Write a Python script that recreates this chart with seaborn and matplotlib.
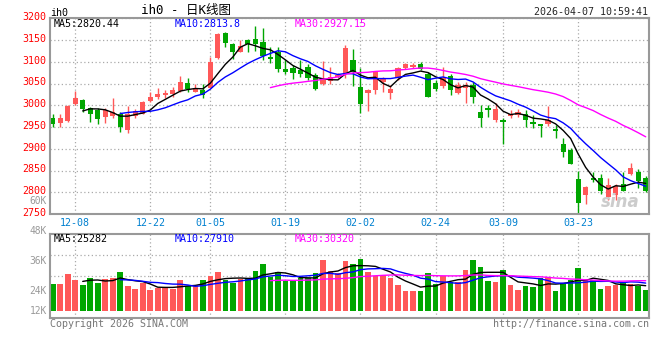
import matplotlib
matplotlib.use("Agg")
import matplotlib.pyplot as plt
import matplotlib.transforms as mtransforms
import numpy as np
import pandas as pd
import seaborn as sns

# daily OHLC for ih0 (oldest first)
opens = [2970, 2960, 2964, 3003, 3012, 2993, 2989, 2974, 2975, 2981,
         2943, 2976, 2981, 3010, 3019, 3024, 3025, 3033, 3051, 3031,
         3034, 3040, 3108, 3166, 3140, 3123, 3150, 3152, 3145, 3112,
         3122, 3084, 3086, 3080, 3087, 3070, 3049, 3056, 3064, 3075,
         3104, 3042, 3029, 3034, 3053, 3029, 3062, 3086, 3089, 3096,
         3071, 3051, 3045, 3068, 3029, 3039, 3047, 2985, 2994, 2965,
         2966, 2975, 2978, 2980, 2962, 2956, 2958, 2945, 2912, 2897,
         2830, 2793, 2833, 2832, 2790, 2793, 2819, 2843, 2847, 2833]
highs = [2980, 2979, 3000, 3033, 3014, 2995, 2993, 2993, 3016, 2985,
         2999, 2991, 3010, 3031, 3040, 3036, 3043, 3067, 3063, 3048,
         3049, 3112, 3166, 3169, 3143, 3149, 3152, 3182, 3178, 3134,
         3133, 3104, 3093, 3104, 3094, 3074, 3102, 3089, 3075, 3139,
         3129, 3085, 3037, 3077, 3066, 3047, 3089, 3098, 3097, 3100,
         3076, 3059, 3089, 3071, 3054, 3054, 3054, 3001, 3001, 3005,
         2971, 2990, 2991, 2990, 2977, 2958, 2998, 2954, 2924, 2901,
         2849, 2814, 2847, 2843, 2832, 2819, 2847, 2868, 2853, 2837]
lows = [2951, 2951, 2961, 3000, 2984, 2962, 2957, 2960, 2970, 2938,
        2936, 2970, 2980, 3008, 3014, 3016, 3018, 3031, 3031, 3030,
        3016, 3039, 3106, 3133, 3106, 3122, 3123, 3125, 3104, 3098,
        3076, 3072, 3061, 3066, 3058, 3034, 3046, 3049, 3062, 3062,
        3045, 2983, 2987, 3026, 3031, 3014, 3059, 3083, 3085, 3081,
        3019, 3033, 3040, 3024, 3027, 3006, 3006, 2951, 2974, 2962,
        2912, 2970, 2974, 2951, 2948, 2927, 2953, 2924, 2882, 2864,
        2751, 2774, 2824, 2797, 2782, 2782, 2803, 2840, 2809, 2800]
closes = [2957, 2970, 2999, 3017, 2992, 2981, 2969, 2989, 2985, 2951,
          2981, 2987, 3007, 3019, 3027, 3028, 3035, 3054, 3037, 3039,
          3024, 3100, 3164, 3144, 3123, 3137, 3140, 3140, 3114, 3107,
          3084, 3077, 3075, 3072, 3062, 3037, 3058, 3065, 3070, 3132,
          3076, 3004, 3034, 3076, 3062, 3037, 3086, 3094, 3093, 3083,
          3020, 3038, 3062, 3034, 3046, 3047, 3020, 2971, 2988, 2991,
          2962, 2981, 2984, 2967, 2958, 2953, 2967, 2941, 2892, 2865,
          2776, 2812, 2829, 2804, 2816, 2814, 2804, 2855, 2827, 2802]
volumes = [27000, 27000, 37000, 31000, 26000, 33000, 28000, 32000, 33000, 39000,
           25000, 22000, 28000, 21000, 23000, 24000, 22000, 31000, 25000, 26000,
           31000, 35000, 39000, 31000, 28000, 32000, 33000, 40000, 47000, 34000,
           39000, 30000, 31000, 33000, 33000, 38000, 51000, 40000, 38000, 50000,
           47000, 52000, 39000, 35000, 36000, 33000, 26000, 20000, 20000, 20500,
           37700, 26700, 34700, 28700, 28700, 40700, 50700, 43700, 29700, 28700,
           40700, 25700, 20700, 24700, 23700, 32700, 33700, 19700, 27700, 30700,
           42700, 32000, 31000, 22000, 25000, 25800, 27600, 26900, 25000, 21100]

tick_pos = [3, 13, 21, 31, 41, 51, 60, 70]
tick_labels = ["12-08", "12-22", "01-05", "01-19", "02-02", "02-24", "03-09", "03-23"]
price_ticks = [3200, 3150, 3100, 3050, 3000, 2950, 2900, 2850, 2800, 2750]
vol_labels = ["60K", "48K", "36K", "24K", "12K"]
# legend values as printed on the source chart
ma_texts = ["MA5:2820.44", "MA10:2813.8", "MA30:2927.15"]
vma_texts = ["MA5:25282", "MA10:27910", "MA30:30320"]

RED = "#ff5858"
GREEN = "#00a600"
GRAY = "#999999"
W, H = 660, 360


def px_rect(left, top, right, bottom):
    return [left / W, 1 - bottom / H, (right - left) / W, (bottom - top) / H]


def main():
    sns.set_theme(style="white")
    plt.rcParams["font.family"] = ["DejaVu Sans Mono", "Noto Sans CJK SC"]

    df = pd.DataFrame({"o": opens, "h": highs, "l": lows, "c": closes, "v": volumes})
    df["idx"] = np.arange(len(df))
    for n in (5, 10, 30):
        df[f"ma{n}"] = df["c"].rolling(n).mean()
        df[f"vma{n}"] = df["v"].rolling(n).mean()
    up = df["c"] >= df["o"]
    colors = np.where(up, RED, GREEN)

    fig = plt.figure(figsize=(W / 100, H / 100), dpi=100)
    ax = fig.add_axes(px_rect(50, 18.3, 649, 214))
    axv = fig.add_axes(px_rect(50, 234, 649, 318))

    # candles
    body_lo = np.minimum(df["o"], df["c"])
    body_h = np.maximum((df["c"] - df["o"]).abs(), 1.6)
    ax.vlines(df["idx"], df["l"], df["h"], colors=colors, linewidth=1, zorder=2)
    ax.bar(df["idx"], body_h, bottom=body_lo, width=0.7, color=colors, linewidth=0, zorder=2)
    for col, c in (("ma5", "black"), ("ma10", "#0000ff"), ("ma30", "#ff00ff")):
        sns.lineplot(data=df, x="idx", y=col, ax=ax, color=c, linewidth=1, zorder=3)

    # volume
    axv.bar(df["idx"], df["v"], width=0.75, color=colors, linewidth=0, zorder=2)
    for col, c in (("vma5", "black"), ("vma10", "#0000ff"), ("vma30", "#ff00ff")):
        sns.lineplot(data=df, x="idx", y=col, ax=axv, color=c, linewidth=1, zorder=3)

    xlim = (-0.36, len(df) - 1 + 0.44)
    grid_kw = dict(color="#aaaaaa", linestyle=(0, (1, 2)), linewidth=0.9)
    for a in (ax, axv):
        a.set_xlim(*xlim)
        a.set_xlabel("")
        a.set_ylabel("")
        a.set_xticks(tick_pos)
        a.grid(True, **grid_kw)
        a.set_axisbelow(True)
        for s in a.spines.values():
            s.set_color(GRAY)
            s.set_linewidth(1.5)
        a.tick_params(length=0)

    ax.set_ylim(2750, 3200)
    ax.set_yticks(price_ticks)
    ax.set_yticklabels([str(p) for p in price_ticks], color="#ff0000", fontsize=7.2)
    ax.set_xticklabels(tick_labels, color="#0080d0", fontsize=7.2)
    ax.tick_params(axis="y", pad=2.5)
    ax.tick_params(axis="x", pad=3)
    # price labels sit a touch above their gridlines on the source
    lift = mtransforms.ScaledTranslation(0, 2.2 / 100, fig.dpi_scale_trans)
    for lab in ax.get_yticklabels():
        lab.set_transform(lab.get_transform() + lift)

    axv.set_ylim(-7000, 77000)
    axv.set_yticks([14000, 35000, 56000])
    axv.set_yticklabels([])
    axv.set_xticklabels([])

    fs = 7.2
    # header
    fig.text(50.5 / W, 1 - 12.7 / H, "ih0", fontsize=fs, va="center", color="black")
    fig.text(141 / W, 1 - 10.5 / H, "ih0 - 日K线图", fontsize=9, va="center", color="black",
             family=["DejaVu Sans Mono", "Noto Sans CJK SC"])
    fig.text(648.5 / W, 1 - 12.3 / H, "2026-04-07 10:59:41", fontsize=fs, va="center", ha="right")

    # MA legends
    for xs, c, t1, t2 in zip((54, 175, 295), ("black", "#0000ff", "#ff00ff"), ma_texts, vma_texts):
        fig.text(xs / W, 1 - 24 / H, t1, fontsize=fs, va="center", color=c)
        fig.text(xs / W, 1 - 238.5 / H, t2, fontsize=fs, va="center", color=c)

    # volume axis labels sit at fixed spots, as on the source chart
    for lab, yp in zip(vol_labels, (200.5, 230.7, 260.7, 290.7, 310.7)):
        fig.text(47 / W, 1 - yp / H, lab, fontsize=6.9, va="center", ha="right", color=GRAY)

    fig.text(620 / W, 1 - 202 / H, "sina", fontsize=12, va="center", ha="center",
             color="#cccccc", style="italic", weight="bold", family="DejaVu Sans")

    fig.text(50 / W, 1 - 323.7 / H, "Copyright 2026 SINA.COM", fontsize=fs, va="center", color="#777777")
    fig.text(649 / W, 1 - 323.7 / H, "http://finance.sina.com.cn", fontsize=fs, va="center",
             ha="right", color="#777777")

    fig.savefig("out.png", dpi=100)
    plt.close(fig)


if __name__ == "__main__":
    main()
